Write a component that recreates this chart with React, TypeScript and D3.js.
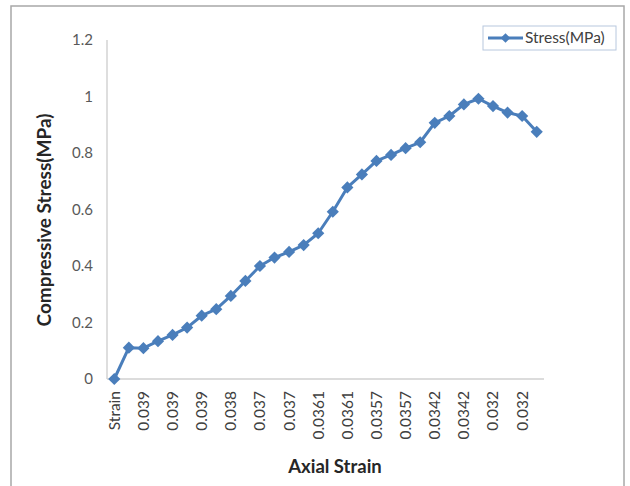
import React, { useEffect, useRef } from "react";
import * as d3 from "d3";

const categories: string[] = [
  "Strain", "0.039", "0.039", "0.039", "0.039", "0.039", "0.039", "0.039",
  "0.038", "0.038", "0.037", "0.037", "0.037", "0.037", "0.0361", "0.0361",
  "0.0361", "0.0361", "0.0357", "0.0357", "0.0357", "0.0357", "0.0342", "0.0342",
  "0.0342", "0.0342", "0.032", "0.032", "0.032", "0.032",
];
const stressValues: number[] = [
  0, 0.111, 0.109, 0.134, 0.156, 0.182, 0.224, 0.247, 0.294, 0.347,
  0.4, 0.43, 0.45, 0.474, 0.516, 0.592, 0.678, 0.724, 0.772, 0.793,
  0.817, 0.838, 0.907, 0.931, 0.972, 0.992, 0.966, 0.943, 0.931, 0.875,
];
const yTicks: number[] = [0, 0.2, 0.4, 0.6, 0.8, 1, 1.2];
const seriesName = "Stress(MPa)";
const xTitle = "Axial Strain";
const yTitle = "Compressive Stress(MPa)";

const W = 630;
const H = 486;
const FONT = "Lato, 'Open Sans', sans-serif";
const BLUE = "#4A7EBB";

export default function App() {
  const ref = useRef<SVGSVGElement>(null);

  useEffect(() => {
    const svg = d3.select(ref.current);
    svg.selectAll("*").remove();

    const left = 107, right = 544, top = 40, bottom = 379;

    // frame
    svg.append("rect")
      .attr("x", 11).attr("y", 6).attr("width", 613).attr("height", 490)
      .attr("fill", "white").attr("stroke", "#a8a8a8").attr("stroke-width", 1.5);

    const x = d3.scaleBand<number>()
      .domain(d3.range(categories.length))
      .range([left, right]);
    const y = d3.scaleLinear().domain([0, 1.2]).range([bottom, top]);

    // axes lines
    svg.append("line")
      .attr("x1", left).attr("x2", left).attr("y1", top).attr("y2", bottom)
      .attr("stroke", "#c8c8c8").attr("stroke-width", 1.2);
    svg.append("line")
      .attr("x1", left).attr("x2", right).attr("y1", bottom).attr("y2", bottom)
      .attr("stroke", "#d0d0d0").attr("stroke-width", 1.4);

    // y tick labels
    svg.append("g").selectAll("text").data(yTicks).join("text")
      .attr("x", 93).attr("y", (d) => y(d)).attr("dy", "0.35em")
      .attr("text-anchor", "end")
      .attr("font-family", FONT).attr("font-size", 15).attr("fill", "#595959")
      .text((d) => String(d));

    // x tick labels (every other)
    const cx = (i: number) => (x(i) as number) + x.bandwidth() / 2;
    svg.append("g").selectAll("text")
      .data(categories.map((c, i) => ({ c, i })).filter((d) => d.i % 2 === 0))
      .join("text")
      .attr("transform", (d) => `translate(${cx(d.i)},${391}) rotate(-90)`)
      .attr("dy", "0.35em")
      .attr("text-anchor", "end")
      .attr("font-family", FONT).attr("font-size", 15.5).attr("fill", "#404040")
      .text((d) => d.c);

    // line
    const line = d3.line<number>()
      .x((_, i) => cx(i))
      .y((d) => y(d));
    svg.append("path")
      .datum(stressValues)
      .attr("d", line)
      .attr("fill", "none").attr("stroke", BLUE).attr("stroke-width", 3)
      .attr("stroke-linejoin", "round");

    const diamond = d3.symbol().type(d3.symbolDiamond2).size(95);
    svg.append("g").selectAll("path").data(stressValues).join("path")
      .attr("transform", (d, i) => `translate(${cx(i)},${y(d)})`)
      .attr("d", diamond() as string)
      .attr("fill", BLUE);

    // titles
    svg.append("text")
      .attr("transform", `translate(44,220) rotate(-90)`)
      .attr("dy", "0.35em")
      .attr("text-anchor", "middle")
      .attr("font-family", FONT).attr("font-weight", "bold").attr("font-size", 19)
      .attr("fill", "#262626")
      .text(yTitle);
    svg.append("text")
      .attr("x", 335).attr("y", 467).attr("dy", "0.35em")
      .attr("text-anchor", "middle")
      .attr("font-family", FONT).attr("font-weight", "bold").attr("font-size", 18.5)
      .attr("fill", "#262626")
      .text(xTitle);

    // legend
    const lg = svg.append("g");
    lg.append("rect")
      .attr("x", 483).attr("y", 26).attr("width", 133).attr("height", 24)
      .attr("fill", "white").attr("stroke", "#b8c8de").attr("stroke-width", 1);
    lg.append("line")
      .attr("x1", 488).attr("x2", 523).attr("y1", 38).attr("y2", 38)
      .attr("stroke", BLUE).attr("stroke-width", 3);
    lg.append("path")
      .attr("transform", `translate(505.5,38)`)
      .attr("d", d3.symbol().type(d3.symbolDiamond2).size(60)() as string)
      .attr("fill", BLUE);
    lg.append("text")
      .attr("x", 525).attr("y", 38).attr("dy", "0.35em")
      .attr("font-family", FONT).attr("font-size", 15.5).attr("fill", "#404040")
      .text(seriesName);
  }, []);

  return (
    <svg
      ref={ref}
      width={W}
      height={H}
      style={{ position: "absolute", left: 0, top: 0, background: "white" }}
    />
  );
}
